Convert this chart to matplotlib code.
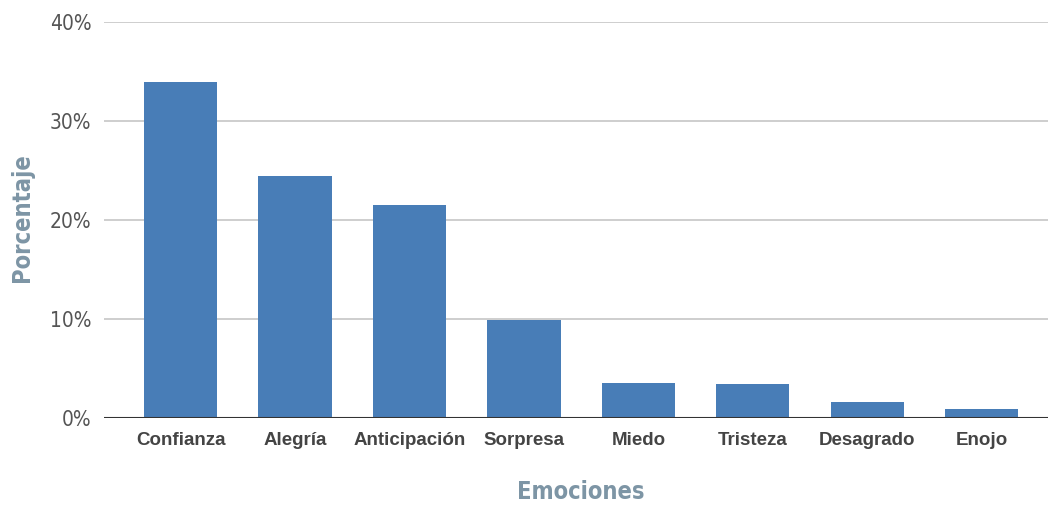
import matplotlib.pyplot as plt
from matplotlib.ticker import FuncFormatter

# porcentaje de cada emoción
emociones = ['Confianza', 'Alegría', 'Anticipación', 'Sorpresa',
             'Miedo', 'Tristeza', 'Desagrado', 'Enojo']
porcentajes = [33.9, 24.4, 21.5, 9.9, 3.5, 3.45, 1.6, 0.9]
ticks_y = [0, 10, 20, 30, 40]

BAR_COLOR = '#487db7'
TITLE_COLOR = '#7d95a5'

fig = plt.figure(figsize=(10.48, 5.05), dpi=100)
ax = fig.add_axes([104 / 1048, 87 / 505, 1 - 104 / 1048, 396 / 505])

x = list(range(len(emociones)))
ax.bar(x, porcentajes, width=0.64, color=BAR_COLOR, zorder=3)

ax.set_xlim(-0.67, 7.58)
ax.set_ylim(0, 40)
ax.set_yticks(ticks_y)
ax.yaxis.set_major_formatter(FuncFormatter(lambda v, _: f'{v:.0f}%'))
ax.grid(axis='y', color='#c6c6c6', linewidth=1.2, zorder=0)
ax.axhline(0, color='#333333', linewidth=1.5, zorder=4)

for s in ax.spines.values():
    s.set_visible(False)
ax.tick_params(axis='both', length=0)
ax.tick_params(axis='y', pad=9)
ax.tick_params(axis='x', pad=10)

ax.set_xticks(x)
ax.set_xticklabels(emociones, fontsize=13.5, fontweight='bold', color='#444444',
                   family=['Liberation Sans', 'DejaVu Sans'])
for lab in ax.get_yticklabels():
    lab.set_fontsize(15)
    lab.set_color('#555555')
    lab.set_family('DejaVu Sans')
    lab.set_stretch('condensed')

fig.text(22 / 1048, 1 - 218 / 505, 'Porcentaje', rotation=90, ha='center', va='center',
         fontsize=17, fontweight='bold', color=TITLE_COLOR,
         family='DejaVu Sans', stretch='condensed')
fig.text(581 / 1048, 1 - 492 / 505, 'Emociones', ha='center', va='center',
         fontsize=17, fontweight='bold', color=TITLE_COLOR,
         family='DejaVu Sans', stretch='condensed')

fig.savefig('out.png', dpi=100)
